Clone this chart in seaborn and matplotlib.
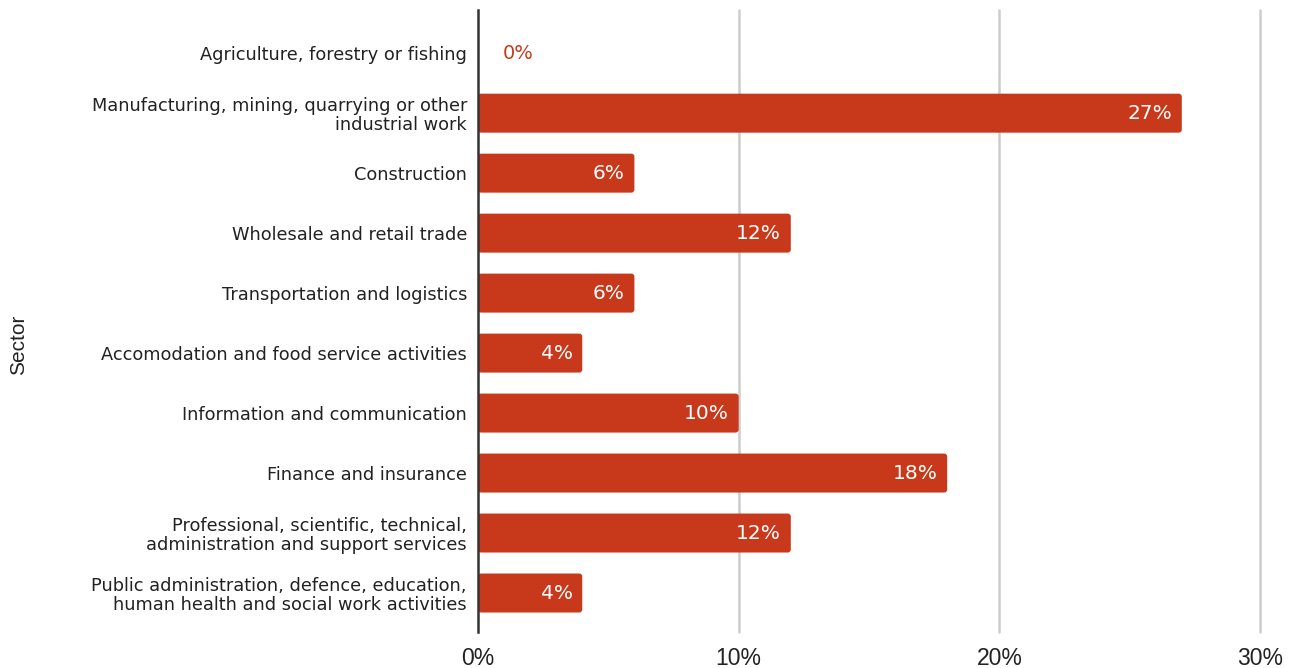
import matplotlib
matplotlib.use("Agg")
import matplotlib.pyplot as plt
from matplotlib.patches import FancyBboxPatch
import seaborn as sns
import pandas as pd

sectors = [
    "Agriculture, forestry or fishing",
    "Manufacturing, mining, quarrying or other\nindustrial work",
    "Construction",
    "Wholesale and retail trade",
    "Transportation and logistics",
    "Accomodation and food service activities",
    "Information and communication",
    "Finance and insurance",
    "Professional, scientific, technical,\nadministration and support services",
    "Public administration, defence, education,\nhuman health and social work activities",
]
shares = [0, 27, 6, 12, 6, 4, 10, 18, 12, 4]
x_ticks = [0, 10, 20, 30]
x_tick_labels = ["0%", "10%", "20%", "30%"]

bar_color = "#C8391B"

df = pd.DataFrame({"Sector": sectors, "Share": shares})

sns.set_theme(style="white")
plt.rcParams["font.family"] = ["Liberation Sans", "DejaVu Sans"]

fig = plt.figure(figsize=(12.93, 6.68), dpi=100)
ax = fig.add_axes([478 / 1293, 1 - 632 / 668, (1260 - 478) / 1293, (632 - 10) / 668])

sns.barplot(data=df, x="Share", y="Sector", orient="h", color=bar_color,
            saturation=1, width=0.65, ax=ax, zorder=3)

ax.set_xlim(0, 30)
ax.set_ylim(9.65, -0.72)

# give the bars slightly rounded corners
for patch in list(ax.patches):
    x0, y0 = patch.get_x(), patch.get_y()
    w, h = patch.get_width(), patch.get_height()
    patch.remove()
    if w <= 0:
        continue
    ax.add_patch(FancyBboxPatch((x0, y0), w, h,
                                boxstyle="round,pad=0,rounding_size=0.12",
                                mutation_aspect=0.42, facecolor=bar_color,
                                edgecolor="none", zorder=3))

ax.set_xticks(x_ticks)
ax.set_xticklabels(x_tick_labels, fontsize=16.5, color="#222222")
ax.tick_params(axis="x", length=0, pad=11)
ax.tick_params(axis="y", length=0, pad=8)
for lbl in ax.get_yticklabels():
    lbl.set_horizontalalignment("right")
    lbl.set_multialignment("right")
    lbl.set_fontfamily(["DejaVu Sans"])
    lbl.set_fontsize(12.8)
    lbl.set_color("#222222")
    lbl.set_linespacing(1.05)

for x in x_ticks[1:]:
    ax.axvline(x, color="#cccccc", linewidth=1.8, zorder=1, clip_on=False)

for side in ["top", "right", "bottom"]:
    ax.spines[side].set_visible(False)
ax.spines["left"].set_color("#333333")
ax.spines["left"].set_linewidth(1.8)
ax.spines["left"].set_zorder(4)

ax.set_xlabel("")
ax.set_ylabel("")
fig.text(19 / 1293, 1 - 345 / 668, "Sector", rotation=90, ha="center", va="center",
         fontsize=15, color="#222222")

label_font = ["DejaVu Sans"]
for i, v in enumerate(shares):
    if v > 0:
        ax.annotate(f"{v}%", xy=(v, i), xytext=(-7, 0), textcoords="offset points",
                    ha="right", va="center", color="white", fontsize=14.5,
                    family=label_font, zorder=5)
    else:
        ax.annotate(f"{v}%", xy=(v, i), xytext=(18, 0), textcoords="offset points",
                    ha="left", va="center", color=bar_color, fontsize=14,
                    family=label_font, zorder=5)

fig.savefig("out.png", dpi=100)
